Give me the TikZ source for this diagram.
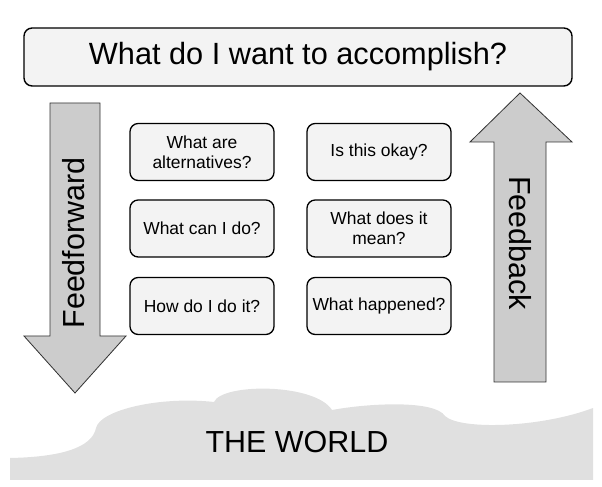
\documentclass[tikz,border=0pt]{standalone}
\usepackage{fontspec}
\setmainfont{Liberation Sans}
\definecolor{boxfill}{HTML}{F3F3F3}
\definecolor{arrfill}{HTML}{CCCCCC}
\definecolor{world}{HTML}{E0E0E0}
\tikzset{
  q/.style={draw,rounded corners=7pt,fill=boxfill,line width=1.1pt,minimum width=4.32cm,minimum height=1.71cm,
    align=center,inner sep=1pt,font=\fontsize{14.9}{17.2}\selectfont},
  goalbox/.style={draw,rounded corners=7pt,fill=boxfill,line width=1.2pt,minimum width=16.44cm,minimum height=1.74cm,
    font=\fontsize{26.2}{30}\selectfont},
  fat/.style={draw=black!80,fill=arrfill,line width=0.7pt,line join=miter},
  lbl/.style={font=\fontsize{26}{30}\selectfont,inner sep=0pt},
}
\begin{document}
\begin{tikzpicture}[x=0.03cm,y=-0.03cm]
\useasboundingbox (0,0) rectangle (602,487);
\fill[world] (10,480) -- (10,458) .. controls (60,457) and (92,448) .. (96,428)
  .. controls (100,410) and (160,396) .. (214,402) .. controls (222,383) and (315,383) .. (332,410)
  .. controls (370,403) and (435,400) .. (445,416) .. controls (460,430) and (540,428) .. (593,408)
  -- (593,480) -- cycle;
\node[lbl] (world) at (297,442){THE WORLD};
\node[goalbox] (goal) at (298,57){What do I want to accomplish?};
\draw[fat] (50,103) -- (100,103) -- (100,336) -- (126,336) -- (75,393) -- (24,336) -- (50,336) -- cycle;
\draw[fat] (494,382) -- (546,382) -- (546,142) -- (572,142) -- (520,93) -- (470,142) -- (494,142) -- cycle;
\node[lbl,rotate=90] (ff) at (74,243){Feedforward}; \node[lbl,rotate=-90] (fb) at (520,243){Feedback};
\node[q] (alt) at (202,152){What are\\alternatives?}; \node[q] (ok) at (379,152){Is this okay?};
\node[q] (can) at (202,228.5){What can I do?}; \node[q] (mean) at (379,228.5){What does it\\mean?};
\node[q] (how) at (202,306){How do I do it?}; \node[q] (happ) at (379,306){What happened?};
\end{tikzpicture}
\end{document}
